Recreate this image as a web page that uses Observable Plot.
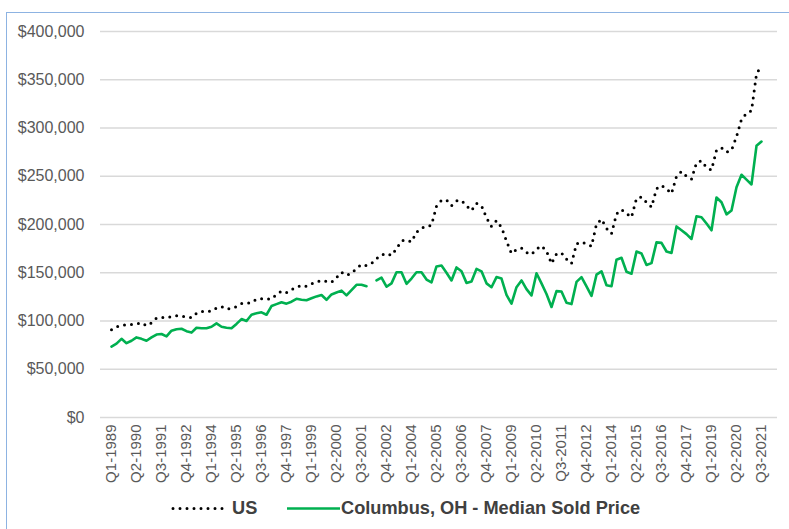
<!DOCTYPE html>
<html><head><meta charset="utf-8">
<script src="https://cdn.jsdelivr.net/npm/d3@7"></script>
<script src="https://cdn.jsdelivr.net/npm/@observablehq/plot@0.6"></script>
<style>
html,body{margin:0;padding:0;background:#fff;}
#wrap{position:relative;width:789px;height:529px;overflow:hidden;font-family:"Liberation Sans",Arial,sans-serif;}
#frame{position:absolute;left:6px;top:12px;width:900px;height:700px;border-top:1px solid #8db3e2;border-left:1px solid #8db3e2;}
#chart{position:absolute;left:0;top:0;}
.lg{position:absolute;top:498px;height:20px;line-height:20px;font-weight:bold;font-size:18.2px;color:#404040;white-space:nowrap;}
.lg svg{position:absolute;top:0;}
</style></head>
<body><div id="wrap"><div id="frame"></div><div id="chart"></div>
<div class="lg" style="left:170px;width:60px;"><svg width="60" height="20"><line x1="3" x2="56" y1="10.5" y2="10.5" stroke="#000" stroke-width="3" stroke-dasharray="0 7" stroke-linecap="round"/></svg></div>
<div class="lg" id="lgUS" style="left:232px;">US</div>
<div class="lg" style="left:286px;width:56px;"><svg width="56" height="20"><line x1="1" x2="54" y1="10.5" y2="10.5" stroke="#00b050" stroke-width="2.6"/></svg></div>
<div class="lg" id="lgCol" style="left:341px;">Columbus, OH - Median Sold Price</div>
</div>
<script>
// Quarter categories Q1-1989 .. Q4-2021 (last category has no data)
const years = d3.range(1989, 2022);
const quarterNames = ["Q1", "Q2", "Q3", "Q4"];
const quarters = years.flatMap(y => quarterNames.map(q => `${q}-${y}`));

// Tick labels shown on the x axis
const tickLabels = ["Q1-1989","Q2-1990","Q3-1991","Q4-1992","Q1-1994","Q2-1995","Q3-1996","Q4-1997","Q1-1999","Q2-2000","Q3-2001","Q4-2002","Q1-2004","Q2-2005","Q3-2006","Q4-2007","Q1-2009","Q2-2010","Q3-2011","Q4-2012","Q1-2014","Q2-2015","Q3-2016","Q4-2017","Q1-2019","Q2-2020","Q3-2021"];

// Y ticks (dollars)
const yTicks = [0, 50000, 100000, 150000, 200000, 250000, 300000, 350000, 400000];

// US median price, thousands of dollars, Q1-1989 .. Q3-2021
const usK = [91,94,95.5,96, 96.5,97,98,95, 98,103,103.5,103.5, 104.5,105.5,105,104,
 103.5,108,110,109.5, 110.5,113.5,115,112.5, 113,115,118,118.5, 119,122.5,123,122.5,
 123,127.5,131,129.5, 132.5,135,137,136, 138.5,140.5,142,141, 140,145,150.5,147.5,
 149.5,154.5,158.5,157.5, 159.5,164.5,168.5,170, 168,175,183,184, 182,192,196.5,197.5,
 199.5,219,225,225.5, 219.5,224.5,225,219.5, 214.5,222,219.5,207, 198,204,197,183,
 170,174,175.5,171, 169,174.5,178,172.5, 159.5,169.5,170.5,164, 159.5,180,182,180,
 177.5,200.5,205.5,196, 190.5,211,215.5,211.5, 207.5,227,228.5,223, 218,237,240.5,237,
 232,250,255,250, 247,264,266,259, 256.5,277,279.5,275, 277,291,309,315,
 318,356,365];

// Columbus, OH median sold price, thousands of dollars (NaN = missing quarter)
const columbusK = [73.5,76.5,81.5,77, 79.5,83,81.5,79.5, 83,86,86.5,84, 90,91.5,92,89.5,
 88,93,92.5,92.5, 94,97.5,94,93, 92.5,97,102,100, 106.5,108,109,106.5,
 115.5,117.5,119.5,118, 120,123,122,121.5, 123.5,125.5,127,122, 127.5,129.5,131.5,126.5,
 132,137.5,137.5,136, NaN,142,145,135.5, 139,150.5,150.5,138.5, 144,150.5,150.5,143,
 140,156.5,157.5,150, 142,155.5,151.5,139.5, 141,154,151.5,139, 135,145.5,144,127,
 118,135,142,133, 126.5,149.5,139,128, 114.5,131,130.5,119, 117.5,140.5,145.5,136,
 126,148,151.5,137, 136,163.5,165.5,151, 149,172,170,158, 160,181.5,181,172,
 170.5,198,194,190, 185,208.5,207.5,201, 194,228,223,210.5, 214.5,238.5,251.5,246.5,
 241.5,281.5,286];

const rows = quarters.map((q, i) => ({
  q,
  us: usK[i] === undefined ? NaN : usK[i] * 1000,
  col: columbusK[i] === undefined ? NaN : columbusK[i] * 1000
}));

const fmt = d => "$" + d3.format(",")(d);

const chart = Plot.plot({
  width: 789,
  height: 500,
  marginLeft: 100,
  marginRight: 12,
  marginTop: 31,
  marginBottom: 83,
  style: {fontFamily: '"Liberation Sans", Arial, sans-serif', color: "#595959", background: "transparent"},
  x: {type: "point", domain: quarters, axis: null, label: null},
  y: {domain: [0, 400000], axis: null, label: null},
  marks: [
    Plot.gridY(yTicks, {stroke: "#d9d9d9", strokeOpacity: 1, strokeWidth: 1.3}),
    Plot.axisY(yTicks, {tickSize: 0, tickPadding: 16, tickFormat: fmt, fontSize: 16, fill: "#595959", label: null}),
    Plot.axisX(tickLabels, {tickSize: 0, tickPadding: 7, tickRotate: -90, fontSize: 15, fill: "#595959", label: null}),
    Plot.line(rows, {x: "q", y: "col", stroke: "#00b050", strokeWidth: 2.6, strokeLinejoin: "round"}),
    Plot.line(rows, {x: "q", y: "us", stroke: "#000", strokeWidth: 3, strokeDasharray: "0 7", strokeLinecap: "round"})
  ]
});
document.getElementById("chart").appendChild(chart);
</script>
</body></html>
